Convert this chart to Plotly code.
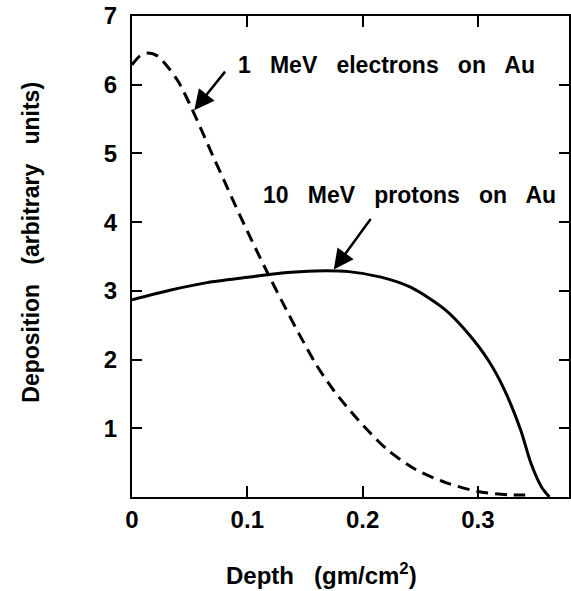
import plotly.graph_objects as go

# Electron (1 MeV on Au) deposition curve - dashed
electron_depth = [0.0, 0.007, 0.014, 0.022, 0.030, 0.040, 0.050, 0.060, 0.070, 0.080,
                  0.090, 0.100, 0.110, 0.120, 0.130, 0.145, 0.160, 0.175, 0.190,
                  0.205, 0.222, 0.246, 0.272, 0.300, 0.328, 0.341]
electron_dep = [6.29, 6.42, 6.46, 6.42, 6.28, 6.05, 5.72, 5.35, 4.97, 4.60,
                4.23, 3.87, 3.52, 3.18, 2.85, 2.37, 1.92, 1.55, 1.24,
                0.96, 0.68, 0.40, 0.21, 0.08, 0.03, 0.03]

# Proton (10 MeV on Au) deposition curve - solid
proton_depth = [0.0, 0.0328, 0.065, 0.102, 0.130, 0.159, 0.188, 0.216, 0.242,
                0.272, 0.291, 0.309, 0.323, 0.337, 0.346, 0.355, 0.362]
proton_dep = [2.87, 3.01, 3.12, 3.20, 3.26, 3.29, 3.28, 3.20, 3.05,
              2.72, 2.39, 1.99, 1.56, 0.98, 0.49, 0.15, 0.0]

x_ticks = [0, 0.1, 0.2, 0.3]
x_ticktext = ["0", "0.1", "0.2", "0.3"]
y_ticks = [1, 2, 3, 4, 5, 6, 7]
y_ticktext = ["1", "2", "3", "4", "5", "6", "7"]

FONT = "Liberation Sans, Arial, Helvetica, sans-serif"

fig = go.Figure()
fig.add_trace(go.Scatter(x=electron_depth, y=electron_dep, mode="lines",
                         line=dict(color="black", width=3, dash="12px,7px", shape="spline", smoothing=0.8),
                         showlegend=False, hoverinfo="skip"))
fig.add_trace(go.Scatter(x=proton_depth, y=proton_dep, mode="lines",
                         line=dict(color="black", width=3, shape="spline", smoothing=0.8),
                         showlegend=False, hoverinfo="skip"))

tickfont = dict(family=FONT, size=24, color="black", weight="bold")
labfont = dict(family=FONT, size=23, color="black", weight="bold")
xtfont = dict(family=FONT, size=24, color="black", weight="bold")

fig.update_layout(
    width=571, height=591,
    margin=dict(l=132, r=0, t=16, b=94),
    paper_bgcolor="white", plot_bgcolor="white",
    font=tickfont,
    xaxis=dict(range=[0, 0.379], tickvals=x_ticks, ticktext=x_ticktext,
               showgrid=False, zeroline=False, showline=True, linecolor="black", linewidth=2,
               mirror="allticks", ticks="inside", ticklen=11, tickwidth=2, tickcolor="black",
               tickfont=tickfont),
    yaxis=dict(range=[0, 7], tickvals=y_ticks, ticktext=y_ticktext,
               showgrid=False, zeroline=False, showline=True, linecolor="black", linewidth=2,
               mirror="allticks", ticks="inside", ticklen=10, tickwidth=2, tickcolor="black",
               tickfont=tickfont, ticklabelstandoff=8),
)

annotations = [
    # arrows
    dict(x=0.054, y=5.63, ax=32, ay=-40, xref="x", yref="y", text="", showarrow=True,
         arrowhead=2, arrowsize=1.6, arrowwidth=2.5, arrowcolor="black"),
    dict(x=0.175, y=3.31, ax=38, ay=-52, xref="x", yref="y", text="", showarrow=True,
         arrowhead=2, arrowsize=1.6, arrowwidth=2.5, arrowcolor="black"),
    # labels
    dict(x=0.0905, y=6.29, xref="x", yref="y", text="1   MeV   electrons   on   Au",
         showarrow=False, xanchor="left", yanchor="middle", font=labfont),
    dict(x=0.112, y=4.40, xref="x", yref="y", text="10   MeV   protons   on   Au",
         showarrow=False, xanchor="left", yanchor="middle", font=labfont),
    # axis titles
    dict(x=0.433, y=-0.16, xref="paper", yref="paper", text="Depth   (gm/cm<sup>2</sup>)",
         showarrow=False, xanchor="center", yanchor="middle", font=xtfont),
    dict(x=-0.232, y=0.53, xref="paper", yref="paper", text="Deposition   (arbitrary   units)",
         showarrow=False, xanchor="center", yanchor="middle", textangle=-90, font=labfont),
]
fig.update_layout(annotations=annotations)

fig.write_html("out.html")
